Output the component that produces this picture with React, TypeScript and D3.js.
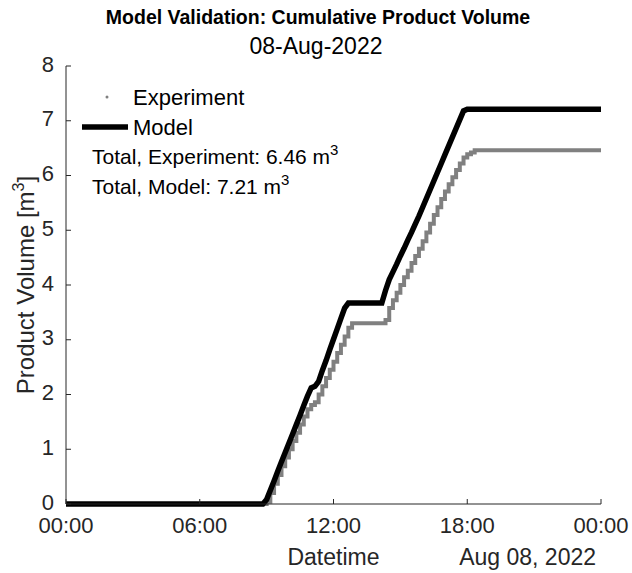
import React from "react";
import * as d3 from "d3";

// Cumulative product volume sampled every 10 minutes from 08:50 to 18:20
const experimentValues = [
  0, 0.04, 0.2, 0.37, 0.53, 0.69, 0.85, 1.0, 1.15, 1.3, 1.45, 1.6, 1.73, 1.81,
  1.86, 2.0, 2.15, 2.3, 2.45, 2.6, 2.76, 2.91, 3.06, 3.22, 3.3, 3.3, 3.3, 3.3,
  3.3, 3.3, 3.3, 3.3, 3.3, 3.36, 3.58, 3.72, 3.86, 4.0, 4.14, 4.26, 4.4, 4.53,
  4.66, 4.8, 4.96, 5.12, 5.28, 5.42, 5.57, 5.71, 5.84, 5.97, 6.1, 6.22, 6.33,
  6.39, 6.42, 6.46,
];
const modelValues = [
  0, 0.08, 0.25, 0.42, 0.6, 0.77, 0.94, 1.11, 1.28, 1.45, 1.62, 1.8, 1.97, 2.12,
  2.15, 2.24, 2.44, 2.62, 2.82, 3.01, 3.2, 3.39, 3.58, 3.67, 3.67, 3.67, 3.67,
  3.67, 3.67, 3.67, 3.67, 3.67, 3.67, 3.9, 4.1, 4.24, 4.38, 4.53, 4.67, 4.82,
  4.96, 5.11, 5.26, 5.42, 5.58, 5.74, 5.9, 6.06, 6.22, 6.38, 6.54, 6.7, 6.86,
  7.02, 7.18, 7.21, 7.21, 7.21,
];
const yTicks = [0, 1, 2, 3, 4, 5, 6, 7, 8];
const xTickHours = [0, 6, 12, 18, 24];
const totalExperiment = "6.46";
const totalModel = "7.21";

const W = 632;
const H = 573;
const M = { left: 66, right: 31, top: 66, bottom: 69 };
const FONT = "'Liberation Sans', Arial, Helvetica, sans-serif";
const INK = "#262626";
const FS = 22;
const LABEL_FS = 23;

const day = (h: number, m = 0) => new Date(2022, 7, 8, h, m);
const sampleTimes = d3.timeMinute.every(10)!.range(day(8, 50), day(18, 21));

type Pt = { t: Date; v: number };
const series = (vals: number[]): Pt[] => [
  { t: day(0), v: 0 },
  ...vals.map((v, i) => ({ t: sampleTimes[i], v })),
  { t: day(24), v: vals[vals.length - 1] },
];

export default function App() {
  const x = d3
    .scaleTime()
    .domain([day(0), day(24)])
    .range([M.left, W - M.right]);
  const y = d3
    .scaleLinear()
    .domain([0, 8])
    .range([H - M.bottom, M.top]);

  const stepLine = d3
    .line<Pt>()
    .x((d) => x(d.t))
    .y((d) => y(d.v))
    .curve(d3.curveStepAfter);
  const smoothLine = d3
    .line<Pt>()
    .x((d) => x(d.t))
    .y((d) => y(d.v));

  const expPath = stepLine(series(experimentValues)) || "";
  const modelPath = smoothLine(series(modelValues)) || "";
  const fmt = d3.timeFormat("%H:%M");
  const x0 = M.left;
  const y0 = H - M.bottom;

  return (
    <svg
      width={W}
      height={H}
      style={{ position: "absolute", left: 0, top: 0, background: "#fff" }}
      fontFamily={FONT}
    >
      {/* titles */}
      <text x={318} y={24} textAnchor="middle" fontSize={19.5} fontWeight="bold" fill="#000">
        Model Validation: Cumulative Product Volume
      </text>
      <text x={316} y={54} textAnchor="middle" fontSize={LABEL_FS} fill="#000">
        08-Aug-2022
      </text>

      {/* data */}
      <path d={expPath} fill="none" stroke="#808080" strokeWidth={4} />
      <path d={modelPath} fill="none" stroke="#000" strokeWidth={5.5} />

      {/* axes */}
      <line x1={x0} x2={W - M.right} y1={y0} y2={y0} stroke={INK} strokeWidth={1} />
      <line x1={x0} x2={x0} y1={M.top} y2={y0} stroke={INK} strokeWidth={1} />
      {yTicks.map((v) => (
        <g key={"y" + v}>
          <line x1={x0} x2={x0 + 5} y1={y(v)} y2={y(v)} stroke={INK} />
          <text x={x0 - 12} y={y(v) - 2} dy="0.35em" textAnchor="end" fontSize={FS} fill={INK}>
            {v}
          </text>
        </g>
      ))}
      {xTickHours.map((h) => (
        <g key={"x" + h}>
          <line x1={x(day(h))} x2={x(day(h))} y1={y0} y2={y0 - 5} stroke={INK} />
          <text x={x(day(h))} y={y0 + 29} textAnchor="middle" fontSize={FS} fill={INK}>
            {fmt(day(h))}
          </text>
        </g>
      ))}
      <text x={x(day(12))} y={y0 + 61} textAnchor="middle" fontSize={LABEL_FS} fill={INK}>
        Datetime
      </text>
      <text x={W - M.right - 5} y={y0 + 61} textAnchor="end" fontSize={LABEL_FS} fill={INK}>
        Aug 08, 2022
      </text>
      <text
        transform={`translate(34,${(M.top + y0) / 2}) rotate(-90)`}
        textAnchor="middle"
        fontSize={24}
        fill={INK}
      >
        Product Volume [m<tspan dy={-10} fontSize={16}>3</tspan>
        <tspan dy={10}>]</tspan>
      </text>

      {/* legend */}
      <circle cx={107} cy={97} r={1.5} fill="#808080" />
      <text x={133} y={97} dy="0.35em" fontSize={FS} fill="#000">
        Experiment
      </text>
      <line x1={82} x2={128} y1={127} y2={127} stroke="#000" strokeWidth={5.5} />
      <text x={133} y={127} dy="0.35em" fontSize={FS} fill="#000">
        Model
      </text>
      <text x={92} y={157} dy="0.35em" fontSize={FS - 1} fill="#000">
        Total, Experiment: {totalExperiment} m<tspan dy={-9} fontSize={15}>3</tspan>
      </text>
      <text x={92} y={187} dy="0.35em" fontSize={FS - 1} fill="#000">
        Total, Model: {totalModel} m<tspan dy={-9} fontSize={15}>3</tspan>
      </text>
    </svg>
  );
}
